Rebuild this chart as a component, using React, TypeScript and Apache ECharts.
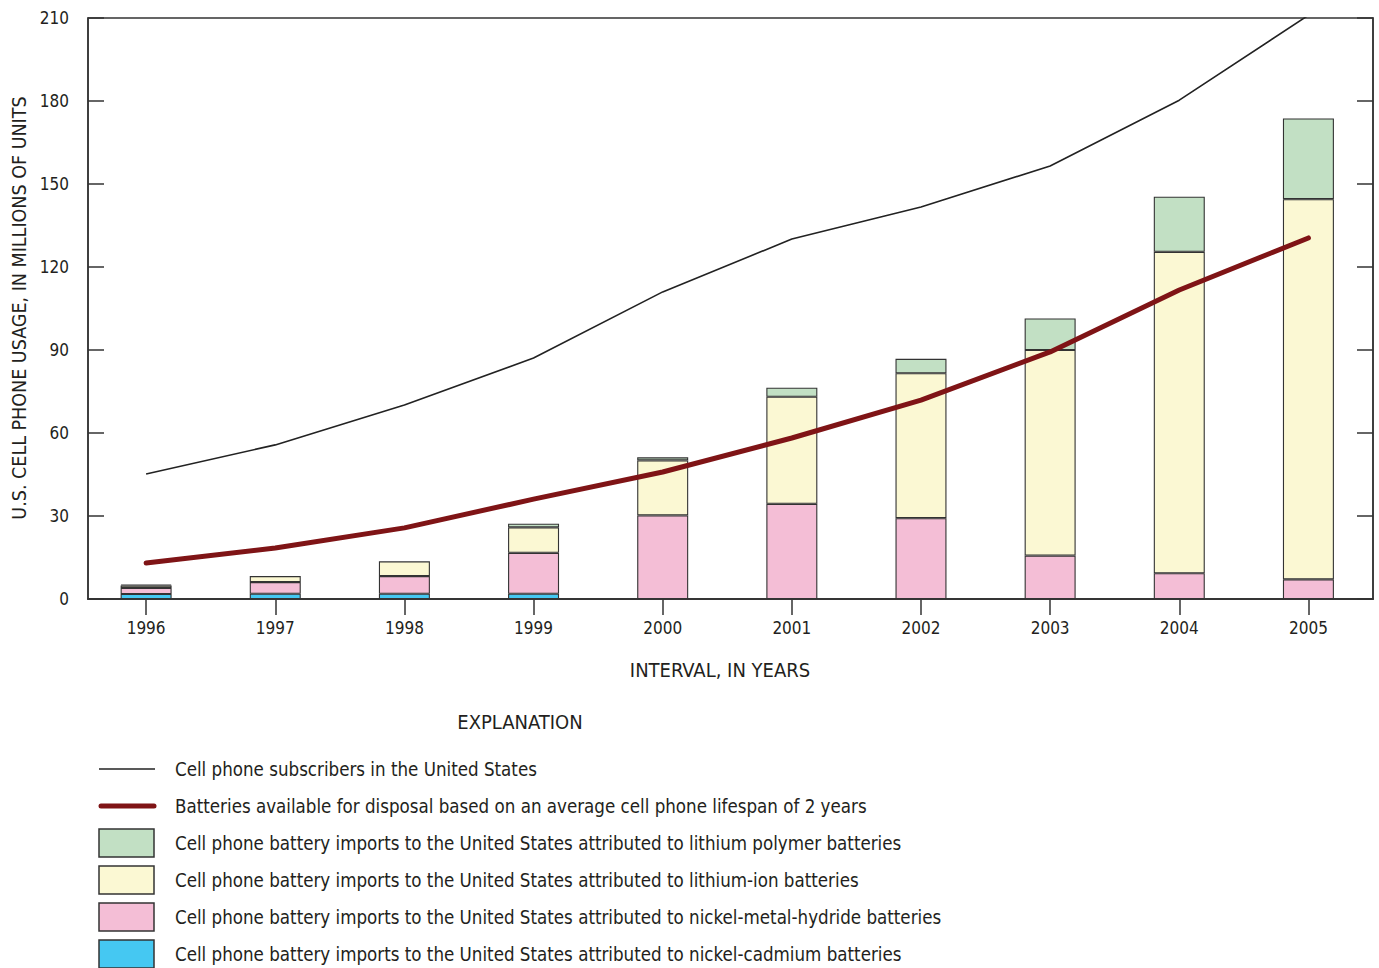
import React, { useEffect, useRef } from "react";
import * as echarts from "echarts";

const years = [1996, 1997, 1998, 1999, 2000, 2001, 2002, 2003, 2004, 2005];
const yearLabels = ["1996", "1997", "1998", "1999", "2000", "2001", "2002", "2003", "2004", "2005"];
const subscribers = [45.2, 55.7, 70.1, 87.1, 111, 130.1, 141.7, 156.5, 180.3, 211];
const disposal = [13.0, 18.4, 25.7, 36.1, 45.9, 58.2, 71.9, 89.3, 111.7, 130.5];
const nicad = [1.8, 1.9, 1.9, 1.9, 0, 0, 0, 0, 0, 0];
const nimh = [2.2, 4.2, 6.4, 14.8, 30.2, 34.4, 29.2, 15.7, 9.3, 7.1];
const liion = [0.9, 2.2, 5.3, 9.2, 19.9, 38.7, 52.4, 74.3, 116.2, 137.4];
const lipoly = [0.3, 0, 0, 1.3, 1.1, 3.3, 5.2, 11.4, 19.9, 29.2];

const legendLabels = [
  "Cell phone subscribers in the United States",
  "Batteries available for disposal based on an average cell phone lifespan of 2 years",
  "Cell phone battery imports to the United States attributed to lithium polymer batteries",
  "Cell phone battery imports to the United States attributed to lithium-ion batteries",
  "Cell phone battery imports to the United States attributed to nickel-metal-hydride batteries",
  "Cell phone battery imports to the United States attributed to nickel-cadmium batteries",
];

const FONT = "'Liberation Sans Narrow', 'DejaVu Sans Condensed', 'Roboto', sans-serif";
const TXT = "#231f20";
const EDGE = "#333333";
const C_GREEN = "#c2e0c4";
const C_YELLOW = "#fbf8d3";
const C_PINK = "#f4bed6";
const C_BLUE = "#45c8f2";
const C_RED = "#7f1416";

const X_MIN = 1995.55;
const X_MAX = 2005.5;
const G_LEFT = 88;
const G_TOP = 18;
const G_W = 1285;
const G_H = 581;

export default function App() {
  const ref = useRef<HTMLDivElement>(null);
  useEffect(() => {
    document.body.style.margin = "0";
    const chart = echarts.init(ref.current!, null, { renderer: "svg" });
    const pair = (arr: number[]) => years.map((y, i) => [y, arr[i]]);
    const pxPerYear = G_W / (X_MAX - X_MIN);
    const barGridLeft = G_LEFT + (years[0] - X_MIN) * pxPerYear - pxPerYear / 2;
    const barGridW = pxPerYear * years.length;

    const barSeries = (name: string, arr: number[], color: string) => ({
      name,
      type: "bar",
      stack: "imports",
      barWidth: 51,
      xAxisIndex: 2,
      yAxisIndex: 2,
      data: arr.map((v) => (v > 0 ? v : "-")),
      itemStyle: { color, borderColor: EDGE, borderWidth: 1.1 },
      z: 2,
    });

    const legendY = [769, 806, 843, 880, 917, 954];
    const rectColors = [C_GREEN, C_YELLOW, C_PINK, C_BLUE];
    const graphic: any[] = [
      {
        type: "text",
        x: 19,
        y: 308,
        rotation: Math.PI / 2,
        style: {
          text: "U.S. CELL PHONE USAGE, IN MILLIONS OF UNITS",
          font: `19.5px ${FONT}`,
          fill: TXT,
          textAlign: "center",
          textVerticalAlign: "middle",
        },
      },
      {
        type: "text",
        x: 720,
        y: 670,
        style: {
          text: "INTERVAL, IN YEARS",
          font: `20px ${FONT}`,
          fill: TXT,
          textAlign: "center",
          textVerticalAlign: "middle",
        },
      },
      {
        type: "text",
        x: 520,
        y: 722,
        style: {
          text: "EXPLANATION",
          font: `20px ${FONT}`,
          fill: TXT,
          textAlign: "center",
          textVerticalAlign: "middle",
        },
      },
      {
        type: "line",
        shape: { x1: 99, y1: legendY[0], x2: 155, y2: legendY[0] },
        style: { stroke: "#222", lineWidth: 1.5 },
      },
      {
        type: "line",
        shape: { x1: 101, y1: legendY[1], x2: 154, y2: legendY[1] },
        style: { stroke: C_RED, lineWidth: 5, lineCap: "round" },
      },
    ];
    rectColors.forEach((c, i) => {
      graphic.push({
        type: "rect",
        shape: { x: 99, y: legendY[i + 2] - 14, width: 55, height: 28 },
        style: { fill: c, stroke: EDGE, lineWidth: 1.5 },
      });
    });
    legendLabels.forEach((t, i) => {
      graphic.push({
        type: "text",
        x: 175,
        y: legendY[i],
        scaleX: 0.93,
        style: {
          text: t,
          font: `20px ${FONT}`,
          fill: TXT,
          textAlign: "left",
          textVerticalAlign: "middle",
        },
      });
    });

    const hiddenAxis = {
      show: false,
      splitLine: { show: false },
      axisLine: { show: false },
      axisTick: { show: false },
      axisLabel: { show: false },
    };

    chart.setOption({
      animation: false,
      textStyle: { fontFamily: FONT },
      grid: [
        {
          left: G_LEFT,
          top: G_TOP,
          width: G_W,
          height: G_H,
          show: true,
          borderColor: EDGE,
          borderWidth: 1.5,
          backgroundColor: "transparent",
        },
        {
          left: barGridLeft,
          top: G_TOP,
          width: barGridW,
          height: G_H,
          show: false,
        },
      ],
      xAxis: [
        {
          type: "value",
          gridIndex: 0,
          position: "bottom",
          min: X_MIN,
          max: X_MAX,
          splitLine: { show: false },
          axisLine: { show: true, lineStyle: { color: EDGE, width: 1.5 } },
          axisTick: { show: false },
          axisLabel: {
            customValues: years,
            margin: 20,
            fontSize: 17,
            color: TXT,
            fontFamily: FONT,
            formatter: (v: number) => String(v),
          },
        },
        {
          type: "value",
          gridIndex: 0,
          position: "top",
          min: X_MIN,
          max: X_MAX,
          splitLine: { show: false },
          axisLine: { show: true, lineStyle: { color: EDGE, width: 1.5 } },
          axisTick: {
            show: true,
            inside: true,
            length: 16,
            customValues: years,
            lineStyle: { color: EDGE, width: 1.5 },
          },
          axisLabel: { show: false },
        },
        {
          type: "category",
          gridIndex: 1,
          data: yearLabels,
          boundaryGap: true,
          ...hiddenAxis,
        },
      ],
      yAxis: [
        {
          type: "value",
          gridIndex: 0,
          position: "left",
          min: 0,
          max: 210,
          interval: 30,
          splitLine: { show: false },
          axisLine: { show: true, lineStyle: { color: EDGE, width: 1.5 } },
          axisTick: { show: true, inside: true, length: 16, lineStyle: { color: EDGE, width: 1.5 } },
          axisLabel: {
            margin: 19,
            fontSize: 17,
            color: TXT,
            fontFamily: FONT,
          },
        },
        {
          type: "value",
          gridIndex: 0,
          position: "right",
          min: 0,
          max: 210,
          interval: 30,
          splitLine: { show: false },
          axisLine: { show: true, lineStyle: { color: EDGE, width: 1.5 } },
          axisTick: { show: true, inside: true, length: 16, lineStyle: { color: EDGE, width: 1.5 } },
          axisLabel: { show: false },
        },
        {
          type: "value",
          gridIndex: 1,
          min: 0,
          max: 210,
          interval: 30,
          ...hiddenAxis,
        },
      ],
      series: [
        barSeries("Nickel-cadmium", nicad, C_BLUE),
        barSeries("Nickel-metal-hydride", nimh, C_PINK),
        barSeries("Lithium-ion", liion, C_YELLOW),
        barSeries("Lithium polymer", lipoly, C_GREEN),
        {
          name: "Subscribers",
          type: "line",
          xAxisIndex: 0,
          yAxisIndex: 0,
          data: pair(subscribers),
          symbol: "none",
          lineStyle: { color: "#222", width: 1.6 },
          clip: true,
          z: 4,
        },
        {
          name: "Disposal",
          type: "line",
          xAxisIndex: 0,
          yAxisIndex: 0,
          data: pair(disposal),
          symbol: "none",
          lineStyle: { color: C_RED, width: 5, cap: "round", join: "round" },
          z: 5,
        },
      ],
      graphic,
    });
    return () => chart.dispose();
  }, []);
  return <div ref={ref} style={{ width: 1379, height: 968 }} />;
}
